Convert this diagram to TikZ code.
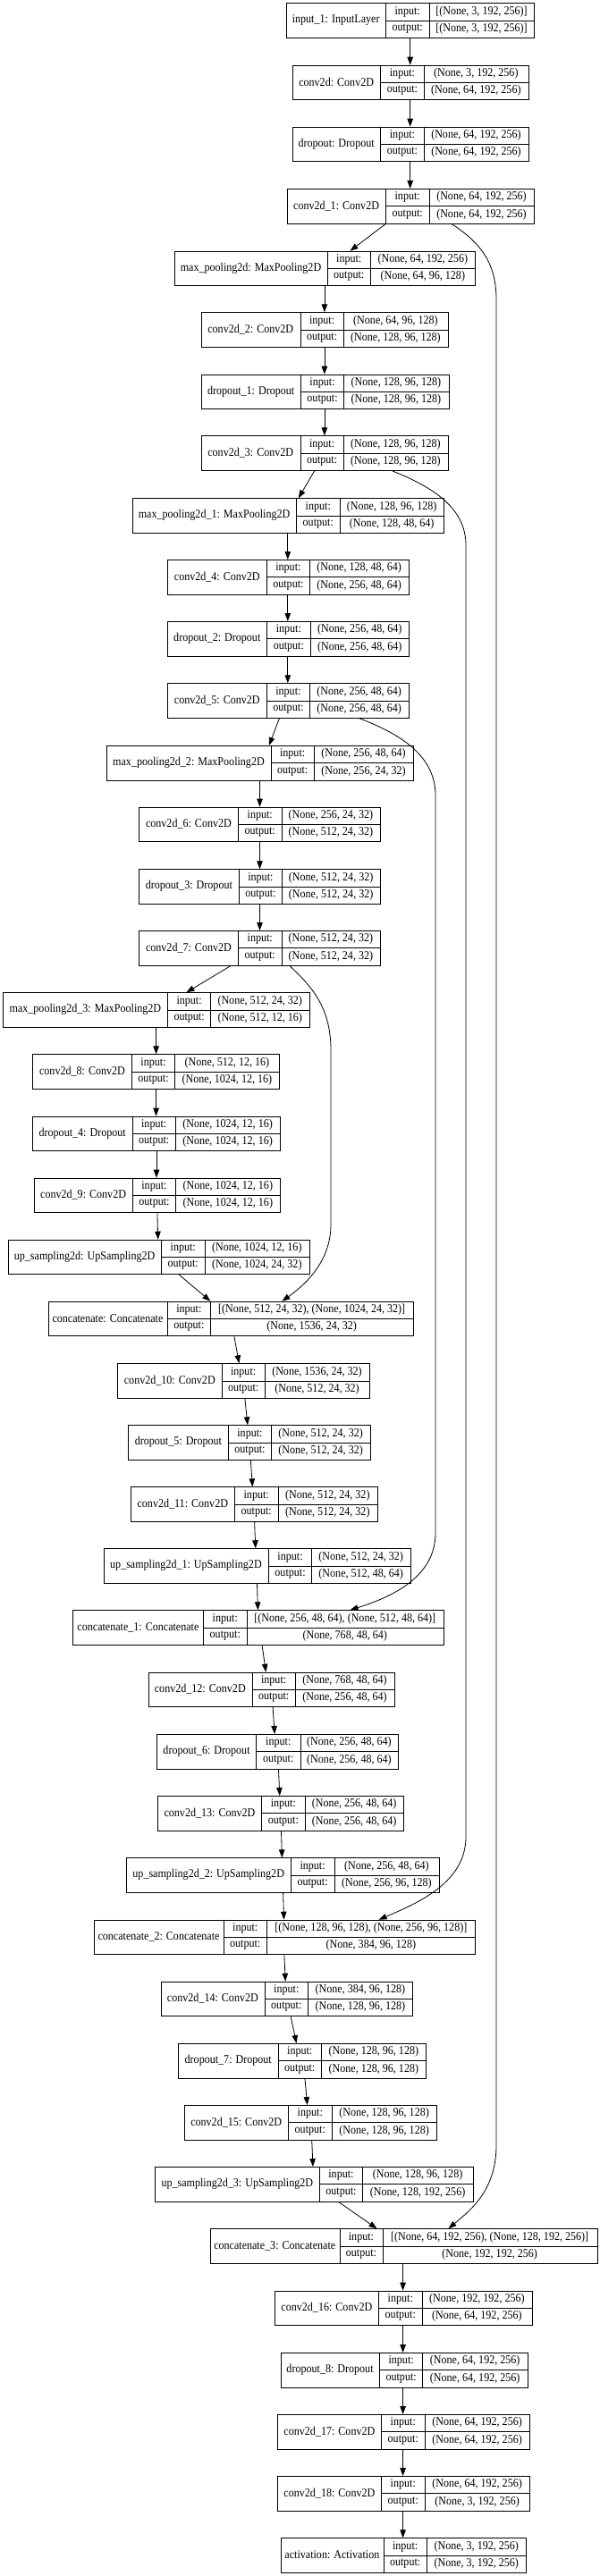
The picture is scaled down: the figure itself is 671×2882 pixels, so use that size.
\documentclass[tikz,border=0pt]{standalone}
\usepackage{fontspec}
\setmainfont{Liberation Serif}[FakeStretch=0.9]
\usetikzlibrary{arrows.meta}
\tikzset{
 box/.style={draw=black, line width=1pt, inner sep=0pt, anchor=north west, minimum height=38.5pt},
 sepline/.style={draw=black, line width=0.8pt},
 txt/.style={inner sep=0pt, font=\fontsize{13.4}{15}\selectfont},
 arr/.style={draw=black, line width=0.8pt, -{Triangle[length=9pt,width=6.5pt]}},
}
% #1 name, #2 x1, #3 y1, #4 x2, #5 d1, #6 d2, #7 label, #8 input, #9 output
\newcommand\layer[9]{%
 \node[box, minimum width={(#4-#2)*1pt}] (#1) at (#2,#3) {};
 \draw[sepline] (#5,0 |- #1.north) -- (#5,0 |- #1.south);
 \draw[sepline] (#6,0 |- #1.north) -- (#6,0 |- #1.south);
 \draw[sepline] (#5,0 |- #1.center) -- (#1.east);
 \node[txt] (#1-l) at ({(#2+#5)/2},{#3+19.25}) {#7};
 \node[txt] (#1-ik) at ({(#5+#6)/2},{#3+9.7}) {input:};
 \node[txt] (#1-ok) at ({(#5+#6)/2},{#3+28.9}) {output:};
 \node[txt] (#1-iv) at ({(#6+#4)/2},{#3+9.7}) {#8};
 \node[txt] (#1-ov) at ({(#6+#4)/2},{#3+28.9}) {#9};
}
\newcommand\edge[4]{\draw[arr] (#2,0 |- #1.south) -- (#4,0 |- #3.north);}
\begin{document}
\begin{tikzpicture}[x=1pt,y=-1pt]
\useasboundingbox (0,0) rectangle (671,2882);
\layer{in1}{320.1}{3.3}{596.9}{431.3}{480.1}{input\_1: InputLayer}{[(None, 3, 192, 256)]}{[(None, 3, 192, 256)]}
\layer{c0}{326.5}{72.7}{590.5}{425.8}{474.1}{conv2d: Conv2D}{(None, 3, 192, 256)}{(None, 64, 192, 256)}
\layer{d0}{326.5}{141.7}{590.9}{425.8}{474.1}{dropout: Dropout}{(None, 64, 192, 256)}{(None, 64, 192, 256)}
\layer{c1}{320.9}{211}{596.9}{431.3}{480.1}{conv2d\_1: Conv2D}{(None, 64, 192, 256)}{(None, 64, 192, 256)}
\layer{mp0}{194.7}{280.7}{531.4}{366.3}{414.2}{max\_pooling2d: MaxPooling2D}{(None, 64, 192, 256)}{(None, 64, 96, 128)}
\layer{c2}{224.6}{349.3}{500.6}{335.9}{384.3}{conv2d\_2: Conv2D}{(None, 64, 96, 128)}{(None, 128, 96, 128)}
\layer{d1}{224.6}{418.7}{501.5}{336.8}{384.3}{dropout\_1: Dropout}{(None, 128, 96, 128)}{(None, 128, 96, 128)}
\layer{c3}{224.6}{487.3}{500.6}{335.9}{384.3}{conv2d\_3: Conv2D}{(None, 128, 96, 128)}{(None, 128, 96, 128)}
\layer{mp1}{147.6}{557.3}{496.4}{331.6}{380}{max\_pooling2d\_1: MaxPooling2D}{(None, 128, 96, 128)}{(None, 128, 48, 64)}
\layer{c4}{187.4}{626}{456.6}{298.2}{346.6}{conv2d\_4: Conv2D}{(None, 128, 48, 64)}{(None, 256, 48, 64)}
\layer{d2}{187.4}{695}{457}{298.2}{347.5}{dropout\_2: Dropout}{(None, 256, 48, 64)}{(None, 256, 48, 64)}
\layer{c5}{187.4}{764.3}{456.6}{298.2}{346.6}{conv2d\_5: Conv2D}{(None, 256, 48, 64)}{(None, 256, 48, 64)}
\layer{mp2}{119}{834}{461.7}{303}{351.3}{max\_pooling2d\_2: MaxPooling2D}{(None, 256, 48, 64)}{(None, 256, 24, 32)}
\layer{c6}{155.3}{902.7}{424.9}{266.6}{314.9}{conv2d\_6: Conv2D}{(None, 256, 24, 32)}{(None, 512, 24, 32)}
\layer{d3}{155.3}{972.3}{424.9}{267.4}{315.4}{dropout\_3: Dropout}{(None, 512, 24, 32)}{(None, 512, 24, 32)}
\layer{c7}{155.3}{1041}{424.9}{266.6}{314.9}{conv2d\_7: Conv2D}{(None, 512, 24, 32)}{(None, 512, 24, 32)}
\layer{mp3}{3.4}{1110.3}{345.7}{187.4}{235.8}{max\_pooling2d\_3: MaxPooling2D}{(None, 512, 24, 32)}{(None, 512, 12, 16)}
\layer{c8}{36.4}{1179.3}{312.4}{147.6}{195.5}{conv2d\_8: Conv2D}{(None, 512, 12, 16)}{(None, 1024, 12, 16)}
\layer{d4}{36.4}{1248.7}{312.8}{148}{196.4}{dropout\_4: Dropout}{(None, 1024, 12, 16)}{(None, 1024, 12, 16)}
\layer{c9}{37.7}{1317.7}{313.2}{148.5}{196.4}{conv2d\_9: Conv2D}{(None, 1024, 12, 16)}{(None, 1024, 12, 16)}
\layer{up0}{8.6}{1386.7}{345.7}{180.6}{228.9}{up\_sampling2d: UpSampling2D}{(None, 1024, 12, 16)}{(None, 1024, 24, 32)}
\layer{cat0}{53.5}{1455.7}{462.1}{187.4}{235.3}{concatenate: Concatenate}{[(None, 512, 24, 32), (None, 1024, 24, 32)]}{(None, 1536, 24, 32)}
\layer{c10}{131.4}{1525.3}{412.9}{248.2}{296.1}{conv2d\_10: Conv2D}{(None, 1536, 24, 32)}{(None, 512, 24, 32)}
\layer{d5}{143.3}{1594.3}{413.8}{255.5}{303.4}{dropout\_5: Dropout}{(None, 512, 24, 32)}{(None, 512, 24, 32)}
\layer{c11}{146.3}{1663.3}{421.5}{262.3}{311.1}{conv2d\_11: Conv2D}{(None, 512, 24, 32)}{(None, 512, 24, 32)}
\layer{up1}{115.5}{1732.3}{458.7}{300.4}{348.7}{up\_sampling2d\_1: UpSampling2D}{(None, 512, 24, 32)}{(None, 512, 48, 64)}
\layer{cat1}{81.3}{1801.3}{495.5}{227.6}{276}{concatenate\_1: Concatenate}{[(None, 256, 48, 64), (None, 512, 48, 64)]}{(None, 768, 48, 64)}
\layer{c12}{165.6}{1870.7}{440.7}{282}{330.3}{conv2d\_12: Conv2D}{(None, 768, 48, 64)}{(None, 256, 48, 64)}
\layer{d6}{175.4}{1940}{445}{286.7}{335.9}{dropout\_6: Dropout}{(None, 256, 48, 64)}{(None, 256, 48, 64)}
\layer{c13}{176.3}{2009}{451.4}{292.7}{341}{conv2d\_13: Conv2D}{(None, 256, 48, 64)}{(None, 256, 48, 64)}
\layer{up2}{141.2}{2078.3}{490.8}{325.2}{374}{up\_sampling2d\_2: UpSampling2D}{(None, 256, 48, 64)}{(None, 256, 96, 128)}
\layer{cat2}{104.8}{2147.7}{531.4}{250.3}{298.2}{concatenate\_2: Concatenate}{[(None, 128, 96, 128), (None, 256, 96, 128)]}{(None, 384, 96, 128)}
\layer{c14}{179.7}{2216.7}{461.3}{296.1}{344.5}{conv2d\_14: Conv2D}{(None, 384, 96, 128)}{(None, 128, 96, 128)}
\layer{d7}{199.4}{2286}{476.3}{311.1}{359.4}{dropout\_7: Dropout}{(None, 128, 96, 128)}{(None, 128, 96, 128)}
\layer{c15}{206.2}{2355}{487.8}{322.2}{371.4}{conv2d\_15: Conv2D}{(None, 128, 96, 128)}{(None, 128, 96, 128)}
\layer{up3}{173.3}{2424}{528.5}{357.3}{405.6}{up\_sampling2d\_3: UpSampling2D}{(None, 128, 96, 128)}{(None, 128, 192, 256)}
\layer{cat3}{234.5}{2493.3}{667.5}{380}{427.9}{concatenate\_3: Concatenate}{[(None, 64, 192, 256), (None, 128, 192, 256)]}{(None, 192, 192, 256)}
\layer{c16}{307.2}{2562.7}{594.8}{423.6}{472}{conv2d\_16: Conv2D}{(None, 192, 192, 256)}{(None, 64, 192, 256)}
\layer{d8}{313.6}{2632}{589.6}{424.5}{472.8}{dropout\_8: Dropout}{(None, 64, 192, 256)}{(None, 64, 192, 256)}
\layer{c17}{310.2}{2701}{592.2}{426.6}{475}{conv2d\_17: Conv2D}{(None, 64, 192, 256)}{(None, 64, 192, 256)}
\layer{c18}{310.2}{2770}{592.2}{426.6}{475}{conv2d\_18: Conv2D}{(None, 64, 192, 256)}{(None, 3, 192, 256)}
\layer{act}{313.6}{2839.3}{588.4}{429.2}{477.1}{activation: Activation}{(None, 3, 192, 256)}{(None, 3, 192, 256)}
% main chain
\edge{in1}{458.7}{c0}{458.7}
\edge{c0}{458.7}{d0}{458.7}
\edge{d0}{458.7}{c1}{458.7}
\edge{c1}{431.3}{mp0}{391.5}
\edge{mp0}{362.9}{c2}{362.9}
\edge{c2}{362.9}{d1}{362.9}
\edge{d1}{362.9}{c3}{362.9}
\edge{c3}{351.7}{mp1}{333.8}
\edge{mp1}{321.8}{c4}{321.8}
\edge{c4}{321.8}{d2}{321.8}
\edge{d2}{321.8}{c5}{321.8}
\edge{c5}{312.4}{mp2}{300.8}
\edge{mp2}{290.5}{c6}{290.5}
\edge{c6}{290.5}{d3}{290.5}
\edge{d3}{290.5}{c7}{290.5}
\edge{c7}{258}{mp3}{208.4}
\edge{mp3}{174.6}{c8}{174.6}
\edge{c8}{174.6}{d4}{174.6}
\edge{d4}{175}{c9}{175}
\edge{c9}{175.9}{up0}{176.7}
\edge{up0}{200.3}{cat0}{235.3}
\edge{cat0}{261.9}{c10}{267.4}
\edge{c10}{273.9}{d5}{276.9}
\edge{d5}{280.3}{c11}{282.4}
\edge{c11}{284.6}{up1}{285.8}
\edge{up1}{287.5}{cat1}{288.4}
\edge{cat1}{293.1}{c12}{297.4}
\edge{c12}{305.1}{d6}{307.2}
\edge{d6}{311.5}{c13}{312.8}
\edge{c13}{314.5}{up2}{315.4}
\edge{up2}{316.6}{cat2}{317.5}
\edge{cat2}{317.9}{c14}{319.2}
\edge{c14}{325.2}{d7}{331.6}
\edge{d7}{341}{c15}{343.6}
\edge{c15}{348.7}{up3}{350}
\edge{up3}{378.7}{cat3}{421.5}
\edge{cat3}{450.6}{c16}{450.6}
\edge{c16}{450.6}{d8}{450.6}
\edge{d8}{450.6}{c17}{450.6}
\edge{c17}{450.6}{c18}{450.6}
\edge{c18}{450.6}{act}{450.6}
% skip connections
\draw[arr] (505,0 |- c1.south) .. controls (535,270) and (555,292) .. (555,335) -- (555,2400) .. controls (555,2450) and (527,2472) .. (501.5,0 |- cat3.north);
\draw[arr] (438.6,0 |- c3.south) .. controls (484,545) and (521,568) .. (521,610) -- (521,2055) .. controls (521,2105) and (470,2128) .. (423.6,0 |- cat2.north);
\draw[arr] (402.2,0 |- c5.south) .. controls (447,821) and (487,845) .. (487,890) -- (487,1715) .. controls (487,1765) and (437,1787) .. (391.5,0 |- cat1.north);
\draw[arr] (323.9,0 |- c7.south) .. controls (350,1105) and (370,1128) .. (370,1175) -- (370,1370) .. controls (370,1408) and (346,1434) .. (315.4,0 |- cat0.north);
\end{tikzpicture}
\end{document}
